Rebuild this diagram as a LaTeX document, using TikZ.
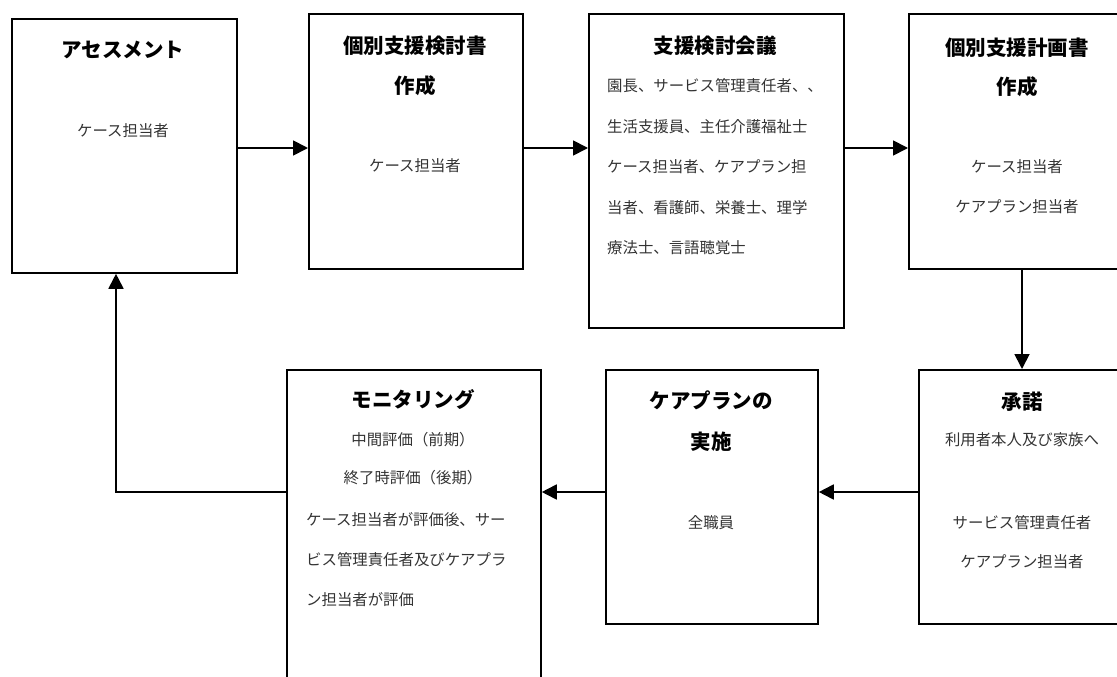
\documentclass[tikz,border=0pt]{standalone}
\usepackage{fontspec}
\newfontfamily\jp{Noto Sans CJK JP}
\usetikzlibrary{arrows.meta}
\tikzset{
 box/.style={draw, line width=1.8pt, anchor=north west, inner sep=0pt},
 arr/.style={line width=1.8pt, -{Triangle[length=15pt,width=15pt]}},
 ttl/.style={font=\jp\bfseries\fontsize{20.5}{24}\selectfont, inner sep=0pt},
 txt/.style={font=\jp\fontsize{15.4}{18}\selectfont, text=black!80, inner sep=0pt},
}
\begin{document}
\begin{tikzpicture}[x=1pt,y=-1pt]
\useasboundingbox (0,0) rectangle (1117,677);
% boxes
\node[box, minimum width=225pt, minimum height=254pt] (b1) at (11,18) {};
\node[box, minimum width=214pt, minimum height=255pt] (b2) at (308,13) {};
\node[box, minimum width=255pt, minimum height=314pt] (b3) at (588,13) {};
\node[box, minimum width=218pt, minimum height=255pt] (b4) at (908,13) {};
\node[box, minimum width=208pt, minimum height=254pt] (b5) at (918,369) {};
\node[box, minimum width=212pt, minimum height=254pt] (b6) at (605,369) {};
\node[box, minimum width=254pt, minimum height=330pt] (b7) at (286,369) {};
% box 1
\node[ttl] (t1) at (123,50) {アセスメント};
\node[txt] (s1) at (123,131) {ケース担当者};
% box 2
\node[ttl] (t2a) at (415,46) {個別支援検討書};
\node[ttl] (t2b) at (415,86) {作成};
\node[txt] (s2) at (415,166) {ケース担当者};
% box 3
\node[ttl] (t3) at (715,46) {支援検討会議};
\node[txt, anchor=west] (s3a) at (607,86) {園長、サービス管理責任者、、};
\node[txt, anchor=west] (s3b) at (607,127) {生活支援員、主任介護福祉士};
\node[txt, anchor=west] (s3c) at (607,167) {ケース担当者、ケアプラン担};
\node[txt, anchor=west] (s3d) at (607,208) {当者、看護師、栄養士、理学};
\node[txt, anchor=west] (s3e) at (607,248) {療法士、言語聴覚士};
% box 4
\node[ttl] (t4a) at (1017,48) {個別支援計画書};
\node[ttl] (t4b) at (1017,87) {作成};
\node[txt] (s4a) at (1017,167) {ケース担当者};
\node[txt] (s4b) at (1017,207) {ケアプラン担当者};
% box 5
\node[ttl] (t5) at (1022,402) {承諾};
\node[txt] (s5a) at (1022,440) {利用者本人及び家族へ};
\node[txt] (s5b) at (1022,523) {サービス管理責任者};
\node[txt] (s5c) at (1022,562) {ケアプラン担当者};
% box 6
\node[ttl] (t6a) at (711,400) {ケアプランの};
\node[ttl] (t6b) at (711,442) {実施};
\node[txt] (s6) at (711,523) {全職員};
% box 7
\node[ttl] (t7) at (413,400) {モニタリング};
\node[txt] (s7a) at (413,440) {中間評価（前期）};
\node[txt] (s7b) at (413,478) {終了時評価（後期）};
\node[txt, anchor=west] (s7c) at (306,520) {ケース担当者が評価後、サー};
\node[txt, anchor=west] (s7d) at (306,560) {ビス管理責任者及びケアプラ};
\node[txt, anchor=west] (s7e) at (306,600) {ン担当者が評価};
% connectors
\coordinate (ytop) at (0,148);
\coordinate (ybot) at (0,492);
\coordinate (xdown) at (1022,0);
\coordinate (xup) at (116,0);
\coordinate (corner) at (116,492);
\draw[arr] (b1.east |- ytop) -- (b2.west |- ytop);
\draw[arr] (b2.east |- ytop) -- (b3.west |- ytop);
\draw[arr] (b3.east |- ytop) -- (b4.west |- ytop);
\draw[arr] (b4.south -| xdown) -- (b5.north -| xdown);
\draw[arr] (b5.west |- ybot) -- (b6.east |- ybot);
\draw[arr] (b6.west |- ybot) -- (b7.east |- ybot);
\draw[arr] (b7.west |- ybot) -- (corner) -- (b1.south -| xup);
\end{tikzpicture}
\end{document}
